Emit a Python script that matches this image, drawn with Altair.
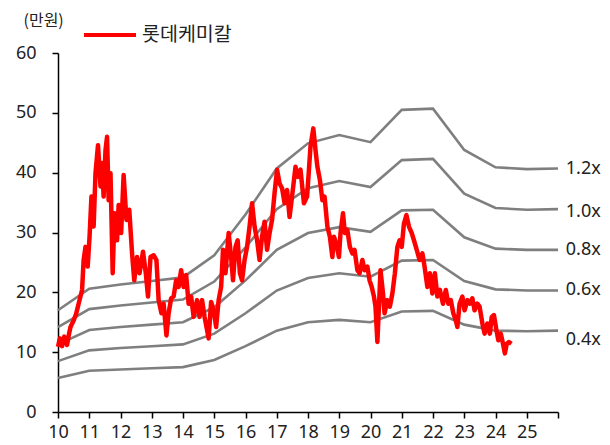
import altair as alt
import pandas as pd

# P/B band knots (year) and band values (만원)
band_years = [10, 11, 12, 13, 14, 15, 16, 17, 18, 19, 20, 21, 22, 23, 24, 25, 26]
band_12 = [17.0, 20.6, 21.3, 21.9, 22.5, 26.2, 33.0, 40.7, 44.9, 46.3, 45.1, 50.5, 50.7, 43.8, 40.9, 40.6, 40.7]
band_10 = [14.2, 17.2, 17.8, 18.3, 18.8, 21.8, 27.5, 33.9, 37.4, 38.6, 37.6, 42.1, 42.3, 36.5, 34.1, 33.8, 33.9]
band_08 = [11.3, 13.7, 14.2, 14.6, 15.0, 17.5, 22.0, 27.1, 29.9, 30.9, 30.1, 33.7, 33.8, 29.2, 27.3, 27.1, 27.1]
band_06 = [8.5, 10.3, 10.7, 11.0, 11.3, 13.1, 16.5, 20.3, 22.4, 23.2, 22.6, 25.3, 25.4, 21.9, 20.5, 20.3, 20.3]
band_04 = [5.7, 6.9, 7.1, 7.3, 7.5, 8.7, 11.0, 13.6, 15.0, 15.4, 15.0, 16.8, 16.9, 14.6, 13.6, 13.5, 13.6]
band_names = ["1.2x", "1.0x", "0.8x", "0.6x", "0.4x"]
band_label_y = [40.6, 33.4, 27.1, 20.4, 12.0]

# 롯데케미칼 share price (만원)
price_years = [10.0, 10.06, 10.13, 10.2, 10.29, 10.35, 10.4, 10.5, 10.58, 10.66, 10.77, 10.82, 10.88,
               10.95, 11.01, 11.07, 11.14, 11.2, 11.28, 11.36, 11.41, 11.46, 11.52, 11.57, 11.62,
               11.68, 11.75, 11.81, 11.89, 11.94, 12.02, 12.1, 12.19, 12.28, 12.37, 12.44, 12.53,
               12.61, 12.72, 12.81, 12.88, 12.96, 13.06, 13.15, 13.22, 13.31, 13.38, 13.47, 13.54,
               13.62, 13.7, 13.78, 13.86, 13.94, 14.02, 14.1, 14.18, 14.26, 14.34, 14.45, 14.53,
               14.61, 14.69, 14.77, 14.82, 14.9, 14.98, 15.06, 15.14, 15.22, 15.28, 15.36, 15.46,
               15.54, 15.6, 15.68, 15.75, 15.82, 15.89, 15.97, 16.05, 16.13, 16.21, 16.29, 16.37,
               16.45, 16.53, 16.61, 16.69, 16.77, 16.85, 16.93, 17.01, 17.09, 17.17, 17.25, 17.33,
               17.41, 17.49, 17.6, 17.68, 17.76, 17.87, 17.97, 18.03, 18.08, 18.17, 18.24, 18.3,
               18.38, 18.46, 18.53, 18.62, 18.7, 18.78, 18.83, 18.9, 18.99, 19.04, 19.12, 19.18,
               19.26, 19.34, 19.42, 19.49, 19.58, 19.65, 19.74, 19.81, 19.9, 19.97, 20.04, 20.11,
               20.16, 20.22, 20.27, 20.32, 20.4, 20.45, 20.54, 20.62, 20.7, 20.78, 20.86, 20.93,
               21.0, 21.07, 21.15, 21.23, 21.32, 21.39, 21.48, 21.57, 21.66, 21.73, 21.82, 21.9,
               21.98, 22.06, 22.14, 22.22, 22.32, 22.41, 22.49, 22.57, 22.65, 22.73, 22.78, 22.85,
               22.94, 23.01, 23.1, 23.18, 23.26, 23.33, 23.42, 23.49, 23.58, 23.65, 23.74, 23.82,
               23.88, 23.95, 24.03, 24.09, 24.17, 24.24, 24.3, 24.36, 24.43, 24.51]
price_vals = [10.9, 12.3, 11.0, 12.6, 11.2, 13.0, 14.2, 15.3, 16.4, 18.1, 20.4, 25.4, 27.6,
              24.3, 29.3, 36.0, 31.0, 39.9, 44.6, 37.7, 41.6, 36.0, 43.8, 46.0, 35.4,
              39.9, 23.2, 33.2, 28.7, 34.6, 29.9, 39.6, 32.1, 33.8, 26.5, 22.0, 25.9,
              23.2, 26.8, 23.2, 19.3, 25.9, 26.2, 25.4, 18.7, 16.5, 18.1, 12.8, 16.5,
              19.0, 19.3, 22.0, 20.9, 23.7, 20.9, 22.9, 18.1, 19.3, 15.9, 18.7, 15.9,
              18.7, 15.9, 13.7, 12.3, 18.4, 17.0, 14.2, 18.7, 20.9, 27.1, 23.2, 29.9,
              25.9, 22.0, 27.6, 28.7, 23.2, 22.0, 25.4, 27.6, 31.0, 34.9, 31.0, 28.7,
              25.4, 29.3, 31.8, 27.1, 29.9, 32.1, 36.6, 40.5, 38.2, 37.4, 34.9, 37.1,
              32.6, 36.0, 41.0, 39.3, 40.5, 34.9, 36.0, 40.5, 44.4, 47.4, 43.8, 41.0,
              38.8, 35.4, 36.0, 31.0, 29.3, 25.9, 29.3, 28.2, 25.9, 29.9, 33.2, 29.9,
              30.4, 27.6, 26.5, 27.1, 23.7, 23.2, 25.4, 23.7, 24.3, 22.0, 20.9, 19.3,
              17.6, 11.7, 17.6, 23.7, 19.8, 16.5, 18.7, 17.6, 19.8, 23.2, 27.6, 28.7,
              27.6, 31.5, 32.9, 31.0, 29.9, 28.7, 27.1, 25.4, 26.5, 24.3, 20.9, 23.2,
              19.8, 23.2, 19.3, 20.4, 18.1, 20.4, 18.1, 18.7, 16.5, 15.3, 14.2, 18.1,
              19.3, 17.0, 18.7, 18.1, 19.0, 17.0, 18.1, 17.6, 14.8, 13.1, 14.8, 13.1,
              15.9, 16.2, 13.7, 12.0, 13.1, 11.4, 9.8, 11.4, 11.7, 11.4]

x_ticks = list(range(10, 27))
y_ticks = [0, 10, 20, 30, 40, 50, 60]

FONT = "Noto Sans CJK KR"
NUMFONT = "Noto Sans"

rows = []
for name, vals in zip(band_names, [band_12, band_10, band_08, band_06, band_04]):
    for i, (yr, v) in enumerate(zip(band_years, vals)):
        rows.append({"band": name, "year": yr, "value": v, "order": i})
bands_df = pd.DataFrame(rows)

price_df = pd.DataFrame({"year": price_years, "value": price_vals, "name": "롯데케미칼"})
price_df["order"] = range(len(price_df))

label_df = pd.DataFrame({"band": band_names, "year": [26.25] * 5, "value": band_label_y})

x_enc = alt.X("year:Q", scale=alt.Scale(domain=[10, 26], nice=False, zero=False),
              axis=alt.Axis(values=x_ticks, title=None, grid=False,
                            labelExpr="datum.value == 26 ? '' : datum.label",
                            labelOverlap=False, labelBound=False,
                            tickSize=6, labelPadding=5, labelFontSize=18,
                            labelFont=NUMFONT, labelColor="#222", domainColor="#000",
                            tickColor="#000", domainWidth=1.5, tickWidth=1.5,
                            labelFlush=False))
y_enc = alt.Y("value:Q", scale=alt.Scale(domain=[0, 60], nice=False),
              axis=alt.Axis(values=y_ticks, title="(만원)", grid=False, tickSize=6,
                            labelOverlap=False,
                            labelPadding=16, labelFontSize=18, labelFont=NUMFONT,
                            labelColor="#222", domainColor="#000", tickColor="#000",
                            domainWidth=1.5, tickWidth=1.5,
                            titleAngle=0, titleX=-35, titleY=-33, titleAlign="left",
                            titleBaseline="middle", titleFontSize=16, titleFont=FONT,
                            titleFontWeight="normal", titleColor="#222"))

band_lines = alt.Chart(bands_df).mark_line(color="#7f7f7f", strokeWidth=2.6).encode(
    x=x_enc, y=y_enc, detail="band:N", order="order:Q")

price_line = alt.Chart(price_df).mark_line(strokeWidth=4.5, strokeJoin="round").encode(
    x=x_enc, y=y_enc, order="order:Q",
    color=alt.Color("name:N", scale=alt.Scale(range=["#ff0000"]),
                    legend=alt.Legend(title=None, orient="none", legendX=24, legendY=-46,
                                      symbolType="stroke", symbolSize=2704,
                                      symbolStrokeWidth=4, labelFontSize=19.5,
                                      labelFont=FONT, labelColor="#222",
                                      labelOffset=4, labelLimit=300)))

labels = alt.Chart(label_df).mark_text(align="left", baseline="middle", fontSize=18,
                                        font=NUMFONT, color="#222").encode(
    x=x_enc, y=y_enc, text="band:N")

chart = alt.layer(band_lines, price_line, labels).properties(
    width=500, height=359,
    autosize=alt.AutoSizeParams(type="none"),
    padding={"left": 50, "top": 45, "right": 44, "bottom": 30},
).configure_view(stroke=None)

chart.save("out.html", embed_options={"renderer": "svg", "actions": False})
